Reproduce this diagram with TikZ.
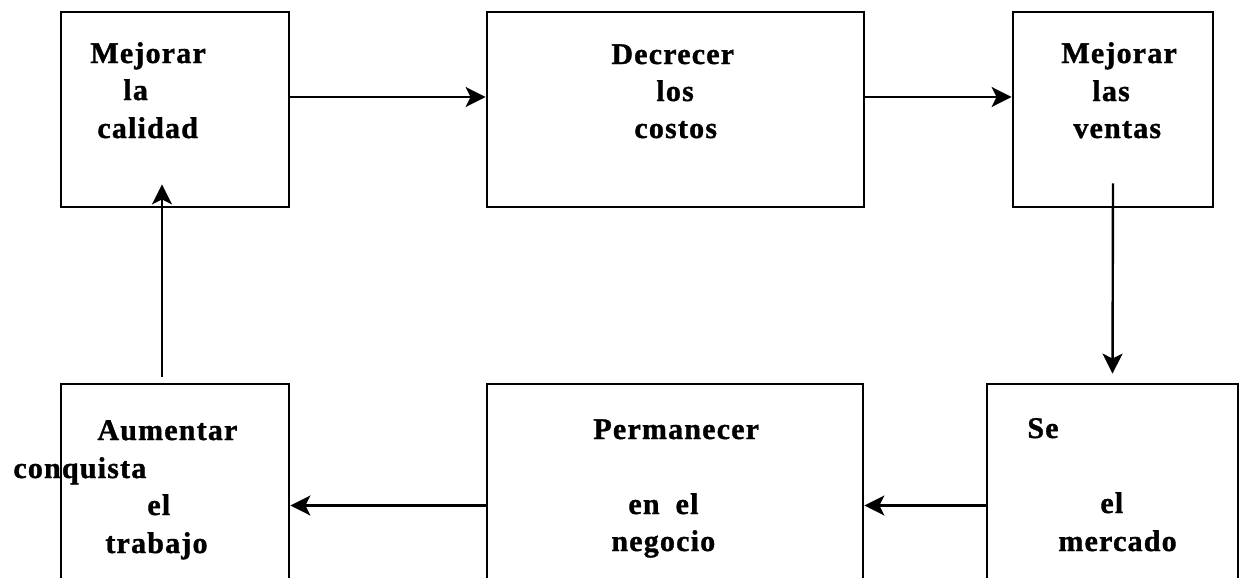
\documentclass[tikz,border=0pt]{standalone}
\usepackage{fontspec}
\setmainfont{Liberation Serif}[LetterSpace=4, BoldFeatures={FakeBold=1.2}]
\usetikzlibrary{arrows.meta}
\begin{document}
\begin{tikzpicture}[x=0.5pt,y=-0.5pt,
  box/.style={draw, line width=1.4pt, inner sep=0pt},
  lbl/.style={anchor=base west, inner sep=0pt, font=\bfseries\fontsize{15}{15}\selectfont},
  arr/.style={line width=1.2pt, -{Stealth[length=10pt,width=10pt,inset=2.5pt]}}]
\useasboundingbox (0,0) rectangle (1243,578);

% boxes
\node[box, minimum width=114pt, minimum height=97.5pt] (b1) at (175,109.5) {};
\node[box, minimum width=188.5pt, minimum height=97.5pt] (b2) at (675.5,109.5) {};
\node[box, minimum width=100pt, minimum height=97.5pt] (b3) at (1113,109.5) {};
\node[box, minimum width=114pt, minimum height=103pt] (b4) at (175,487) {};
\node[box, minimum width=188pt, minimum height=103pt] (b5) at (675,487) {};
\node[box, minimum width=125.5pt, minimum height=103pt] (b6) at (1112.5,487) {};

% texts
\node[lbl] (t1a) at (90,63) {Mejorar};
\node[lbl] (t1b) at (123,100) {la};
\node[lbl] (t1c) at (97,138) {calidad};

\node[lbl] (t2a) at (611,64) {Decrecer};
\node[lbl] (t2b) at (656,101) {los};
\node[lbl] (t2c) at (634,138) {costos};

\node[lbl] (t3a) at (1061,63) {Mejorar};
\node[lbl] (t3b) at (1092,101) {las};
\node[lbl] (t3c) at (1073,138) {ventas};

\node[lbl] (t4a) at (97,440) {Aumentar};
\node[lbl] (t4b) at (13,478) {conquista};
\node[lbl] (t4c) at (147,515) {el};
\node[lbl] (t4d) at (105,553) {trabajo};

\node[lbl] (t5a) at (593,439) {Permanecer};
\node[lbl] (t5b) at (628,514) {en\hspace{8pt}el};
\node[lbl] (t5c) at (611,551) {negocio};

\node[lbl] (t6a) at (1027,438) {Se};
\node[lbl] (t6b) at (1100,513) {el};
\node[lbl] (t6c) at (1058,551) {mercado};

% connectors
\draw[arr] ([yshift=6.25pt]b1.east) -- ([yshift=6.25pt]b2.west);
\draw[arr] ([yshift=6.25pt]b2.east) -- ([yshift=6.25pt]b3.west);
\draw[arr] ([yshift=12.5pt]b3.south) -- ([yshift=4.5pt]b6.north);
\draw[arr] ([yshift=-9.25pt]b6.west) -- ([yshift=-9.25pt]b5.east);
\draw[arr] ([yshift=-9.25pt]b5.west) -- ([yshift=-9.25pt]b4.east);
\draw[arr] ([xshift=-6.5pt,yshift=3pt]b4.north) -- ([xshift=-6.5pt,yshift=12pt]b1.south);
\end{tikzpicture}
\end{document}
